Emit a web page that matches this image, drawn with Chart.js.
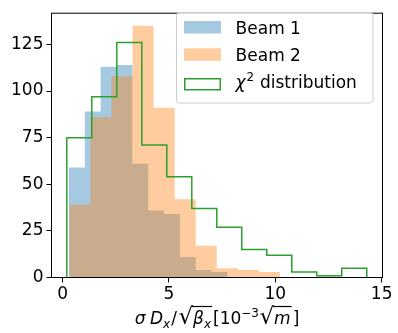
<!DOCTYPE html>
<html>
<head>
<meta charset="utf-8">
<script src="https://cdn.jsdelivr.net/npm/chart.js@4.4.1/dist/chart.umd.min.js"></script>
<style>
    html, body { margin: 0; padding: 0; background: #fff; }
    #wrap { width: 398px; height: 333px; }
</style>
</head>
<body>
<div id="wrap"><canvas id="chart" width="398" height="333"></canvas></div>
<script>
// histogram bin edges and counts
const beam1Edges = [0.30, 1.045, 1.79, 2.535, 3.28, 4.025, 4.77, 5.515, 6.26, 7.005, 7.75];
const beam1Counts = [59, 89, 113, 114, 61, 36, 34, 11, 4, 3];

const beam2Edges = [0.32, 1.31, 2.30, 3.29, 4.28, 5.27, 6.26, 7.25, 8.24, 9.23, 10.22];
const beam2Counts = [39, 86, 108, 135, 91, 42, 17, 5, 4, 3];

const chi2Edges = [0.20, 1.375, 2.55, 3.725, 4.90, 6.075, 7.25, 8.425, 9.60, 10.775, 11.95, 13.125, 14.30];
const chi2Counts = [75, 97, 126, 71, 54, 37, 27, 15, 12, 3, 1, 5];

const seriesLabels = ["Beam 1", "Beam 2", "χ² distribution"];
const xTicks = [0, 5, 10, 15];
const yTicks = [0, 25, 50, 75, 100, 125];

const FONT = "'DejaVu Sans', sans-serif";

// turn edges + counts into points for a stepped line
const stepPoints = (edges, counts) => {
    const pts = [{ x: edges[0], y: 0 }];
    counts.forEach((c, i) => pts.push({ x: edges[i], y: c }));
    pts.push({ x: edges[edges.length - 1], y: 0 });
    return pts;
};

// axes frame (all four spines)
const framePlugin = {
    id: "frame",
    afterDatasetsDraw(chart) {
        const { ctx, chartArea: a } = chart;
        ctx.save();
        ctx.strokeStyle = "#000";
        ctx.lineWidth = 1;
        ctx.strokeRect(a.left, a.top, a.right - a.left, a.bottom - a.top);
        ctx.restore();
    },
};

// legend box in the upper right like matplotlib
const legendPlugin = {
    id: "boxLegend",
    afterDatasetsDraw(chart) {
        const ctx = chart.ctx;
        const bx = 176.5, by = 12.5, bw = 196.5, bh = 90.5, r = 3;
        ctx.save();
        ctx.beginPath();
        ctx.roundRect(bx, by, bw, bh, r);
        ctx.fillStyle = "rgba(255,255,255,0.8)";
        ctx.fill();
        ctx.strokeStyle = "#cccccc";
        ctx.lineWidth = 1;
        ctx.stroke();

        const baselines = [34.3, 61, 88.3];
        const patchTops = [21, 48.3, 78];
        chart.data.datasets.forEach((ds, i) => {
            const px = 184, pw = 37, ph = 12.5, py = patchTops[i];
            if (ds.fill) {
                ctx.fillStyle = ds.backgroundColor;
                ctx.fillRect(px, py, pw, ph);
            } else {
                ctx.strokeStyle = ds.borderColor;
                ctx.lineWidth = 1.5;
                ctx.strokeRect(px + 0.75, py + 0.75, pw - 1.5, ph - 1.5);
            }
            ctx.fillStyle = "#000";
            ctx.textBaseline = "alphabetic";
            ctx.textAlign = "left";
            let x = 235.6;
            const y = baselines[i];
            for (const ch of ds.label) {
                if (ch === "χ") {
                    ctx.font = "italic 17px " + FONT;
                    ctx.fillText(ch, x, y);
                    x += ctx.measureText(ch).width + 0.8;
                } else if (ch === "²") {
                    ctx.font = "12px " + FONT;
                    ctx.fillText("2", x, y - 7.5);
                    x += ctx.measureText("2").width + 0.5;
                } else {
                    ctx.font = "17px " + FONT;
                    ctx.fillText(ch, x, y);
                    x += ctx.measureText(ch).width;
                }
            }
        });
        ctx.restore();
    },
};

// x axis title with math-like layout: σ D_x/√β_x [10^-3 √m]
const xLabelPlugin = {
    id: "xLabel",
    afterDraw(chart) {
        const ctx = chart.ctx;
        const a = chart.chartArea;
        const base = 324;
        const it = "italic 17px " + FONT;
        const rm = "17px " + FONT;
        const sub = "italic 12px " + FONT;
        const sup = "12px " + FONT;
        const rad = "23px " + FONT;
        const parts = [
            { t: "σ", f: it },
            { t: " ", f: rm, w: 4.5 },
            { t: "D", f: it },
            { t: "x", f: sub, dy: 3.5, gap: 1 },
            { t: "/", f: rm, gap: 1.5 },
            { t: "√", f: rad, rad: true },
            { t: "β", f: it, over: 1 },
            { t: "x", f: sub, dy: 3.5, over: 1, gap: 2 },
            { t: "[", f: rm },
            { t: "10", f: rm },
            { t: "−3", f: sup, dy: -7.5, gap: 0.5 },
            { t: "√", f: rad, rad: true },
            { t: "m", f: it, over: 2, gap: 2 },
            { t: "]", f: rm },
        ];
        ctx.save();
        ctx.textBaseline = "alphabetic";
        ctx.textAlign = "left";
        let total = 0;
        parts.forEach((p) => {
            ctx.font = p.f;
            p.width = p.w !== undefined ? p.w : ctx.measureText(p.t).width;
            total += p.width + (p.gap || 0);
        });
        let x = (a.left + a.right) / 2 - total / 2;
        const overY = 306.5;
        const spans = {};
        ctx.fillStyle = "#000";
        parts.forEach((p) => {
            ctx.font = p.f;
            if (p.t.trim()) {
                ctx.fillText(p.t, x, base + (p.dy || 0));
            }
            if (p.over) {
                if (!spans[p.over]) spans[p.over] = [x, x + p.width];
                spans[p.over][1] = x + p.width;
            }
            x += p.width + (p.gap || 0);
        });
        ctx.strokeStyle = "#000";
        ctx.lineWidth = 1.2;
        Object.values(spans).forEach(([x0, x1]) => {
            ctx.beginPath();
            ctx.moveTo(x0 - 1, overY);
            ctx.lineTo(x1 + 1, overY);
            ctx.stroke();
        });
        ctx.restore();
    },
};

const ctx = document.getElementById("chart").getContext("2d");

const datasets = [
    {
        label: seriesLabels[0],
        data: stepPoints(beam1Edges, beam1Counts),
        backgroundColor: "rgba(31, 119, 180, 0.4)",
        borderColor: "rgba(0,0,0,0)",
        borderWidth: 0,
        fill: "origin",
        stepped: "before",
        pointRadius: 0,
        order: 3,
    },
    {
        label: seriesLabels[1],
        data: stepPoints(beam2Edges, beam2Counts),
        backgroundColor: "rgba(255, 127, 14, 0.4)",
        borderColor: "rgba(0,0,0,0)",
        borderWidth: 0,
        fill: "origin",
        stepped: "before",
        pointRadius: 0,
        order: 2,
    },
    {
        label: seriesLabels[2],
        data: stepPoints(chi2Edges, chi2Counts),
        borderColor: "#2ca02c",
        borderWidth: 1.5,
        fill: false,
        stepped: "before",
        pointRadius: 0,
        order: 1,
    },
];

new Chart(ctx, {
    type: "line",
    data: { datasets },
    options: {
        responsive: false,
        animation: false,
        devicePixelRatio: 1,
        layout: { padding: { left: 0, top: 4.5, right: 15.5, bottom: 0 } },
        plugins: {
            legend: { display: false },
            tooltip: { enabled: false },
        },
        scales: {
            x: {
                type: "linear",
                min: -0.52,
                max: 15.04,
                afterFit: (s) => { s.height = 55.5; },
                afterBuildTicks: (s) => { s.ticks = xTicks.map((v) => ({ value: v })); },
                ticks: {
                    color: "#000",
                    font: { family: FONT, size: 17 },
                    padding: 2,
                    maxRotation: 0,
                },
                grid: {
                    drawOnChartArea: false,
                    drawTicks: true,
                    tickLength: 5,
                    color: "#000",
                },
                border: { display: false },
            },
            y: {
                min: 0,
                max: 141.75,
                afterFit: (s) => { s.width = 51.5; },
                afterBuildTicks: (s) => { s.ticks = yTicks.map((v) => ({ value: v })); },
                ticks: {
                    color: "#000",
                    font: { family: FONT, size: 17 },
                    padding: 3,
                },
                grid: {
                    drawOnChartArea: false,
                    drawTicks: true,
                    tickLength: 5,
                    color: "#000",
                },
                border: { display: false },
            },
        },
    },
    plugins: [framePlugin, legendPlugin, xLabelPlugin],
});
</script>
</body>
</html>
